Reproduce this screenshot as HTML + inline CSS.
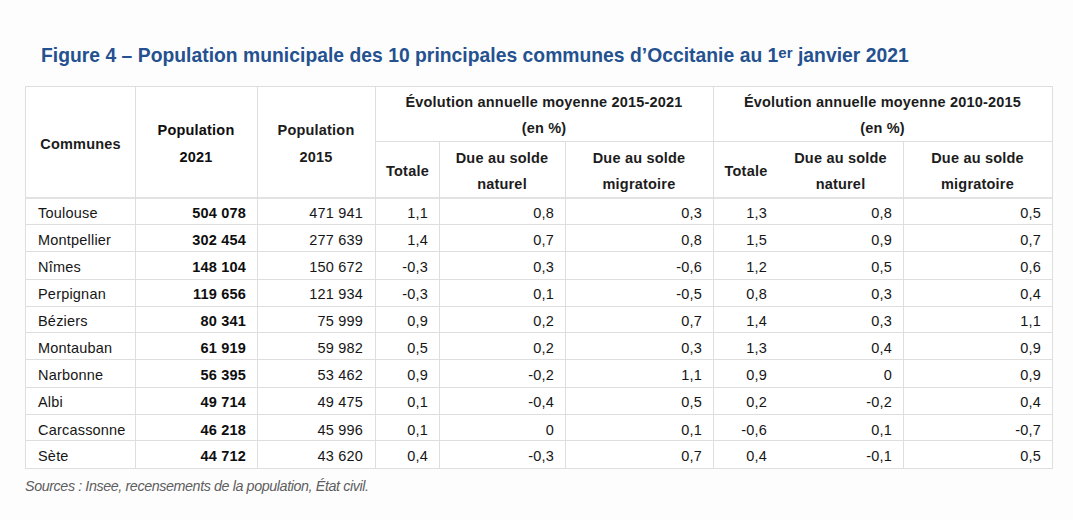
<!DOCTYPE html>
<html><head><meta charset="utf-8"><style>
html,body{margin:0;padding:0;background:#fdfdfd;width:1073px;height:520px;overflow:hidden;position:relative}
body{font-family:"Liberation Sans",sans-serif;}
.l{position:absolute}
.t{position:absolute;white-space:nowrap;font-size:14.5px;letter-spacing:0.2px}
.title{position:absolute;left:41px;top:43px;font-size:19.3px;font-weight:bold;color:#24518f;letter-spacing:0.03px;white-space:nowrap;line-height:26px}
.title sup{font-size:15px;vertical-align:0;position:relative;top:-4px;font-weight:bold;letter-spacing:0}
.tbl{position:absolute;left:25px;top:86px;width:1028px;height:383px;background:#fff}
.h{font-weight:bold;color:#1c1c1c;line-height:26px}
.d{color:#161616;line-height:26px}
.b{font-weight:bold;color:#0e0e0e}
.hb{color:#0e0e0e}
.src{position:absolute;left:25px;top:476px;font-size:14.3px;letter-spacing:-0.4px;font-style:italic;color:#5e5e5e;white-space:nowrap;line-height:20px}
</style></head><body>
<div class="title">Figure 4 – Population municipale des 10 principales communes d’Occitanie au 1<sup>er</sup> janvier 2021</div>
<div class="tbl"></div>
<div class="l" style="left:25px;top:86px;width:1028px;height:1px;background:#dedede"></div>
<div class="l" style="left:375px;top:141px;width:678px;height:1px;background:#dedede"></div>
<div class="l" style="left:25px;top:197px;width:1028px;height:2px;background:#e2e2e2"></div>
<div class="l" style="left:25px;top:224px;width:1028px;height:1px;background:#dedede"></div>
<div class="l" style="left:25px;top:251px;width:1028px;height:1px;background:#dedede"></div>
<div class="l" style="left:25px;top:279px;width:1028px;height:1px;background:#dedede"></div>
<div class="l" style="left:25px;top:306px;width:1028px;height:1px;background:#dedede"></div>
<div class="l" style="left:25px;top:332px;width:1028px;height:1px;background:#dedede"></div>
<div class="l" style="left:25px;top:359px;width:1028px;height:1px;background:#dedede"></div>
<div class="l" style="left:25px;top:387px;width:1028px;height:1px;background:#dedede"></div>
<div class="l" style="left:25px;top:414px;width:1028px;height:1px;background:#dedede"></div>
<div class="l" style="left:25px;top:440px;width:1028px;height:1px;background:#dedede"></div>
<div class="l" style="left:25px;top:468px;width:1028px;height:1px;background:#dedede"></div>
<div class="l" style="left:25px;top:86px;width:1px;height:383px;background:#dedede"></div>
<div class="l" style="left:135px;top:86px;width:1px;height:383px;background:#dedede"></div>
<div class="l" style="left:257px;top:86px;width:1px;height:383px;background:#dedede"></div>
<div class="l" style="left:375px;top:86px;width:1px;height:383px;background:#dedede"></div>
<div class="l" style="left:439px;top:141px;width:1px;height:328px;background:#dedede"></div>
<div class="l" style="left:565px;top:141px;width:1px;height:328px;background:#dedede"></div>
<div class="l" style="left:713px;top:86px;width:1px;height:383px;background:#dedede"></div>
<div class="l" style="left:903px;top:141px;width:1px;height:328px;background:#dedede"></div>
<div class="l" style="left:1052px;top:86px;width:1px;height:383px;background:#dedede"></div>
<div class="t h" style="left:26px;top:131px;width:109px;text-align:center;line-height:26px">Communes</div>
<div class="t h hb" style="left:135px;top:117px;width:122px;text-align:center;line-height:27px">Population<br>2021</div>
<div class="t h" style="left:257px;top:117px;width:118px;text-align:center;line-height:27px">Population<br>2015</div>
<div class="t h" style="left:375px;top:89px;width:338px;text-align:center;line-height:26px">Évolution annuelle moyenne 2015-2021<br>(en %)</div>
<div class="t h" style="left:713px;top:89px;width:339px;text-align:center;line-height:26px">Évolution annuelle moyenne 2010-2015<br>(en %)</div>
<div class="t h" style="left:376px;top:158px;width:63px;text-align:center;line-height:26px">Totale</div>
<div class="t h" style="left:439px;top:145px;width:126px;text-align:center;line-height:26px">Due au solde<br>naturel</div>
<div class="t h" style="left:565px;top:145px;width:148px;text-align:center;line-height:26px">Due au solde<br>migratoire</div>
<div class="t h" style="left:714px;top:158px;width:64px;text-align:center;line-height:26px">Totale</div>
<div class="t h" style="left:778px;top:145px;width:125px;text-align:center;line-height:26px">Due au solde<br>naturel</div>
<div class="t h" style="left:903px;top:145px;width:149px;text-align:center;line-height:26px">Due au solde<br>migratoire</div>
<div class="t d" style="left:38px;top:200px;width:100px;text-align:left;">Toulouse</div>
<div class="t d b" style="left:135px;top:200px;width:111px;text-align:right;">504 078</div>
<div class="t d" style="left:257px;top:200px;width:106px;text-align:right;">471 941</div>
<div class="t d" style="left:375px;top:200px;width:53px;text-align:right;">1,1</div>
<div class="t d" style="left:439px;top:200px;width:115px;text-align:right;">0,8</div>
<div class="t d" style="left:565px;top:200px;width:137px;text-align:right;">0,3</div>
<div class="t d" style="left:713px;top:200px;width:54px;text-align:right;">1,3</div>
<div class="t d" style="left:778px;top:200px;width:114px;text-align:right;">0,8</div>
<div class="t d" style="left:903px;top:200px;width:138px;text-align:right;">0,5</div>
<div class="t d" style="left:38px;top:227px;width:100px;text-align:left;">Montpellier</div>
<div class="t d b" style="left:135px;top:227px;width:111px;text-align:right;">302 454</div>
<div class="t d" style="left:257px;top:227px;width:106px;text-align:right;">277 639</div>
<div class="t d" style="left:375px;top:227px;width:53px;text-align:right;">1,4</div>
<div class="t d" style="left:439px;top:227px;width:115px;text-align:right;">0,7</div>
<div class="t d" style="left:565px;top:227px;width:137px;text-align:right;">0,8</div>
<div class="t d" style="left:713px;top:227px;width:54px;text-align:right;">1,5</div>
<div class="t d" style="left:778px;top:227px;width:114px;text-align:right;">0,9</div>
<div class="t d" style="left:903px;top:227px;width:138px;text-align:right;">0,7</div>
<div class="t d" style="left:38px;top:254px;width:100px;text-align:left;">Nîmes</div>
<div class="t d b" style="left:135px;top:254px;width:111px;text-align:right;">148 104</div>
<div class="t d" style="left:257px;top:254px;width:106px;text-align:right;">150 672</div>
<div class="t d" style="left:375px;top:254px;width:53px;text-align:right;">-0,3</div>
<div class="t d" style="left:439px;top:254px;width:115px;text-align:right;">0,3</div>
<div class="t d" style="left:565px;top:254px;width:137px;text-align:right;">-0,6</div>
<div class="t d" style="left:713px;top:254px;width:54px;text-align:right;">1,2</div>
<div class="t d" style="left:778px;top:254px;width:114px;text-align:right;">0,5</div>
<div class="t d" style="left:903px;top:254px;width:138px;text-align:right;">0,6</div>
<div class="t d" style="left:38px;top:281px;width:100px;text-align:left;">Perpignan</div>
<div class="t d b" style="left:135px;top:281px;width:111px;text-align:right;">119 656</div>
<div class="t d" style="left:257px;top:281px;width:106px;text-align:right;">121 934</div>
<div class="t d" style="left:375px;top:281px;width:53px;text-align:right;">-0,3</div>
<div class="t d" style="left:439px;top:281px;width:115px;text-align:right;">0,1</div>
<div class="t d" style="left:565px;top:281px;width:137px;text-align:right;">-0,5</div>
<div class="t d" style="left:713px;top:281px;width:54px;text-align:right;">0,8</div>
<div class="t d" style="left:778px;top:281px;width:114px;text-align:right;">0,3</div>
<div class="t d" style="left:903px;top:281px;width:138px;text-align:right;">0,4</div>
<div class="t d" style="left:38px;top:308px;width:100px;text-align:left;">Béziers</div>
<div class="t d b" style="left:135px;top:308px;width:111px;text-align:right;">80 341</div>
<div class="t d" style="left:257px;top:308px;width:106px;text-align:right;">75 999</div>
<div class="t d" style="left:375px;top:308px;width:53px;text-align:right;">0,9</div>
<div class="t d" style="left:439px;top:308px;width:115px;text-align:right;">0,2</div>
<div class="t d" style="left:565px;top:308px;width:137px;text-align:right;">0,7</div>
<div class="t d" style="left:713px;top:308px;width:54px;text-align:right;">1,4</div>
<div class="t d" style="left:778px;top:308px;width:114px;text-align:right;">0,3</div>
<div class="t d" style="left:903px;top:308px;width:138px;text-align:right;">1,1</div>
<div class="t d" style="left:38px;top:335px;width:100px;text-align:left;">Montauban</div>
<div class="t d b" style="left:135px;top:335px;width:111px;text-align:right;">61 919</div>
<div class="t d" style="left:257px;top:335px;width:106px;text-align:right;">59 982</div>
<div class="t d" style="left:375px;top:335px;width:53px;text-align:right;">0,5</div>
<div class="t d" style="left:439px;top:335px;width:115px;text-align:right;">0,2</div>
<div class="t d" style="left:565px;top:335px;width:137px;text-align:right;">0,3</div>
<div class="t d" style="left:713px;top:335px;width:54px;text-align:right;">1,3</div>
<div class="t d" style="left:778px;top:335px;width:114px;text-align:right;">0,4</div>
<div class="t d" style="left:903px;top:335px;width:138px;text-align:right;">0,9</div>
<div class="t d" style="left:38px;top:362px;width:100px;text-align:left;">Narbonne</div>
<div class="t d b" style="left:135px;top:362px;width:111px;text-align:right;">56 395</div>
<div class="t d" style="left:257px;top:362px;width:106px;text-align:right;">53 462</div>
<div class="t d" style="left:375px;top:362px;width:53px;text-align:right;">0,9</div>
<div class="t d" style="left:439px;top:362px;width:115px;text-align:right;">-0,2</div>
<div class="t d" style="left:565px;top:362px;width:137px;text-align:right;">1,1</div>
<div class="t d" style="left:713px;top:362px;width:54px;text-align:right;">0,9</div>
<div class="t d" style="left:778px;top:362px;width:114px;text-align:right;">0</div>
<div class="t d" style="left:903px;top:362px;width:138px;text-align:right;">0,9</div>
<div class="t d" style="left:38px;top:389px;width:100px;text-align:left;">Albi</div>
<div class="t d b" style="left:135px;top:389px;width:111px;text-align:right;">49 714</div>
<div class="t d" style="left:257px;top:389px;width:106px;text-align:right;">49 475</div>
<div class="t d" style="left:375px;top:389px;width:53px;text-align:right;">0,1</div>
<div class="t d" style="left:439px;top:389px;width:115px;text-align:right;">-0,4</div>
<div class="t d" style="left:565px;top:389px;width:137px;text-align:right;">0,5</div>
<div class="t d" style="left:713px;top:389px;width:54px;text-align:right;">0,2</div>
<div class="t d" style="left:778px;top:389px;width:114px;text-align:right;">-0,2</div>
<div class="t d" style="left:903px;top:389px;width:138px;text-align:right;">0,4</div>
<div class="t d" style="left:38px;top:417px;width:100px;text-align:left;">Carcassonne</div>
<div class="t d b" style="left:135px;top:417px;width:111px;text-align:right;">46 218</div>
<div class="t d" style="left:257px;top:417px;width:106px;text-align:right;">45 996</div>
<div class="t d" style="left:375px;top:417px;width:53px;text-align:right;">0,1</div>
<div class="t d" style="left:439px;top:417px;width:115px;text-align:right;">0</div>
<div class="t d" style="left:565px;top:417px;width:137px;text-align:right;">0,1</div>
<div class="t d" style="left:713px;top:417px;width:54px;text-align:right;">-0,6</div>
<div class="t d" style="left:778px;top:417px;width:114px;text-align:right;">0,1</div>
<div class="t d" style="left:903px;top:417px;width:138px;text-align:right;">-0,7</div>
<div class="t d" style="left:38px;top:443px;width:100px;text-align:left;">Sète</div>
<div class="t d b" style="left:135px;top:443px;width:111px;text-align:right;">44 712</div>
<div class="t d" style="left:257px;top:443px;width:106px;text-align:right;">43 620</div>
<div class="t d" style="left:375px;top:443px;width:53px;text-align:right;">0,4</div>
<div class="t d" style="left:439px;top:443px;width:115px;text-align:right;">-0,3</div>
<div class="t d" style="left:565px;top:443px;width:137px;text-align:right;">0,7</div>
<div class="t d" style="left:713px;top:443px;width:54px;text-align:right;">0,4</div>
<div class="t d" style="left:778px;top:443px;width:114px;text-align:right;">-0,1</div>
<div class="t d" style="left:903px;top:443px;width:138px;text-align:right;">0,5</div>
<div class="src">Sources : Insee, recensements de la population, État civil.</div>
</body></html>
